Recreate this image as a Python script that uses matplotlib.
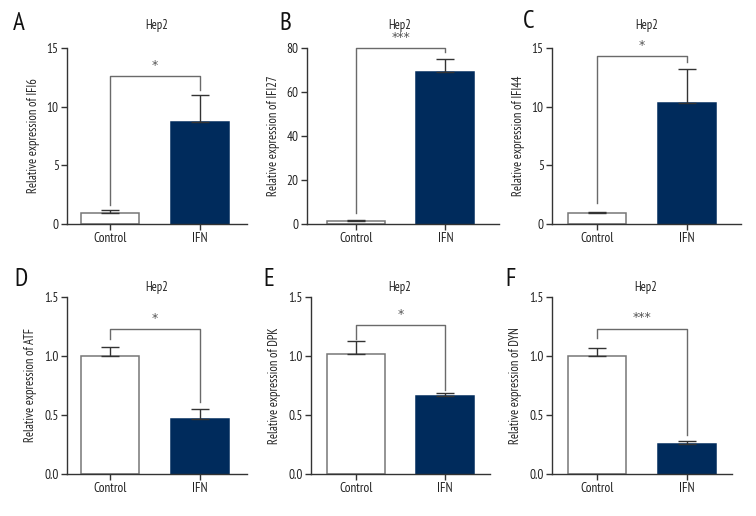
import matplotlib
matplotlib.use("Agg")
import matplotlib.pyplot as plt
from matplotlib import font_manager

names = {f.name for f in font_manager.fontManager.ttflist}
fam = [n for n in ['PT Sans Narrow', 'Fira Sans Condensed', 'Roboto Condensed'] if n in names] + ['DejaVu Sans']
plt.rcParams['font.family'] = fam

groups = ["Control", "IFN"]
panel_letters = ["A", "B", "C", "D", "E", "F"]
genes = ["IFI6", "IFI27", "IFI44", "ATF", "DPK", "DYN"]
means = [[0.9, 8.7], [1.5, 69.0], [0.95, 10.35], [1.0, 0.47], [1.02, 0.665], [1.0, 0.255]]
errs = [[0.3, 2.3], [0.1, 6.0], [0.05, 2.85], [0.08, 0.08], [0.11, 0.02], [0.065, 0.025]]
ymaxes = [15, 80, 15, 1.5, 1.5, 1.5]
yticks = [[0, 5, 10, 15], [0, 20, 40, 60, 80], [0, 5, 10, 15],
          [0.0, 0.5, 1.0, 1.5], [0.0, 0.5, 1.0, 1.5], [0.0, 0.5, 1.0, 1.5]]
ytick_labels = [["0", "5", "10", "15"], ["0", "20", "40", "60", "80"], ["0", "5", "10", "15"],
                ["0.0", "0.5", "1.0", "1.5"], ["0.0", "0.5", "1.0", "1.5"], ["0.0", "0.5", "1.0", "1.5"]]
# bracket: (height, left leg bottom, right leg bottom)
brackets = [(12.6, 1.6, 11.4), (80, 5, 78), (14.3, 1.8, 13.8),
            (1.23, 1.14, 0.61), (1.26, 1.14, 0.71), (1.233, 1.154, 0.33)]
sig = ["*", "***", "*", "*", "*", "***"]

W, H = 756, 516
fig = plt.figure(figsize=(W / 100, H / 100), dpi=100)

# pixel layout: axes (left, right, top, bottom), xlim, title (x, y), letter (x, y)
layout = [
    ((67, 247, 48, 224), (-0.48, 1.52), (157, 25), (13, 23)),
    ((307, 499, 48, 224), (-0.55, 1.6), (400, 25), (279, 23)),
    ((552, 741, 48, 224), (-0.5, 1.6), (647, 25), (523, 22)),
    ((67, 247, 297, 474), (-0.48, 1.52), (157, 288), (14, 280)),
    ((311, 490, 297, 474), (-0.5, 1.5), (400, 288), (263, 280)),
    ((552, 732, 297, 474), (-0.5, 1.5), (646, 288), (505, 280)),
]

navy = "#002b5c"
axcol = "#333333"
brcol = "#6a6a6a"
tcol = "#222222"

for i in range(6):
    (l, r, t, b), xl, (hx, hy), (lx, ly) = layout[i]
    ax = fig.add_axes([l / W, 1 - b / H, (r - l) / W, (b - t) / H])
    ax.set_xlim(*xl)
    ax.set_ylim(0, ymaxes[i])
    x = [0, 1]
    ax.bar(x, means[i], width=0.65, color=["white", navy],
           edgecolor=["#777777", navy], linewidth=1.1, zorder=2)
    ax.errorbar(x, means[i], yerr=[[0, 0], errs[i]], fmt="none",
                ecolor="#333333", elinewidth=1.0, capsize=6.5, capthick=1.0, zorder=3)
    h, lb, rb = brackets[i]
    ax.plot([0, 0, 1, 1], [lb, h, h, rb], color=brcol, lw=1.0, clip_on=False, zorder=4)
    ax.annotate(sig[i], xy=(0.5, h), xytext=(0, 3), textcoords="offset points",
                ha="center", va="bottom", fontsize=9, color="#555555",
                family="DejaVu Sans", annotation_clip=False)
    ax.set_xticks(x)
    ax.set_xticklabels(groups, fontsize=9.5, color=tcol)
    ax.set_yticks(yticks[i])
    ax.set_yticklabels(ytick_labels[i], fontsize=9.5, color=tcol)
    for s in ["top", "right"]:
        ax.spines[s].set_visible(False)
    for s in ["left", "bottom"]:
        ax.spines[s].set_color(axcol)
        ax.spines[s].set_linewidth(1.0)
    ax.tick_params(direction="out", length=4, width=1.0, color=axcol, pad=2)
    ax.set_ylabel("Relative expression of " + genes[i], fontsize=9, color=tcol, labelpad=5)
    fig.text(hx / W, 1 - hy / H, "Hep2", ha="center", va="center", fontsize=9, color=tcol)
    fig.text(lx / W, 1 - ly / H, panel_letters[i], ha="left", va="center",
             fontsize=18, color="#111111")

fig.savefig("out.png", dpi=100)
